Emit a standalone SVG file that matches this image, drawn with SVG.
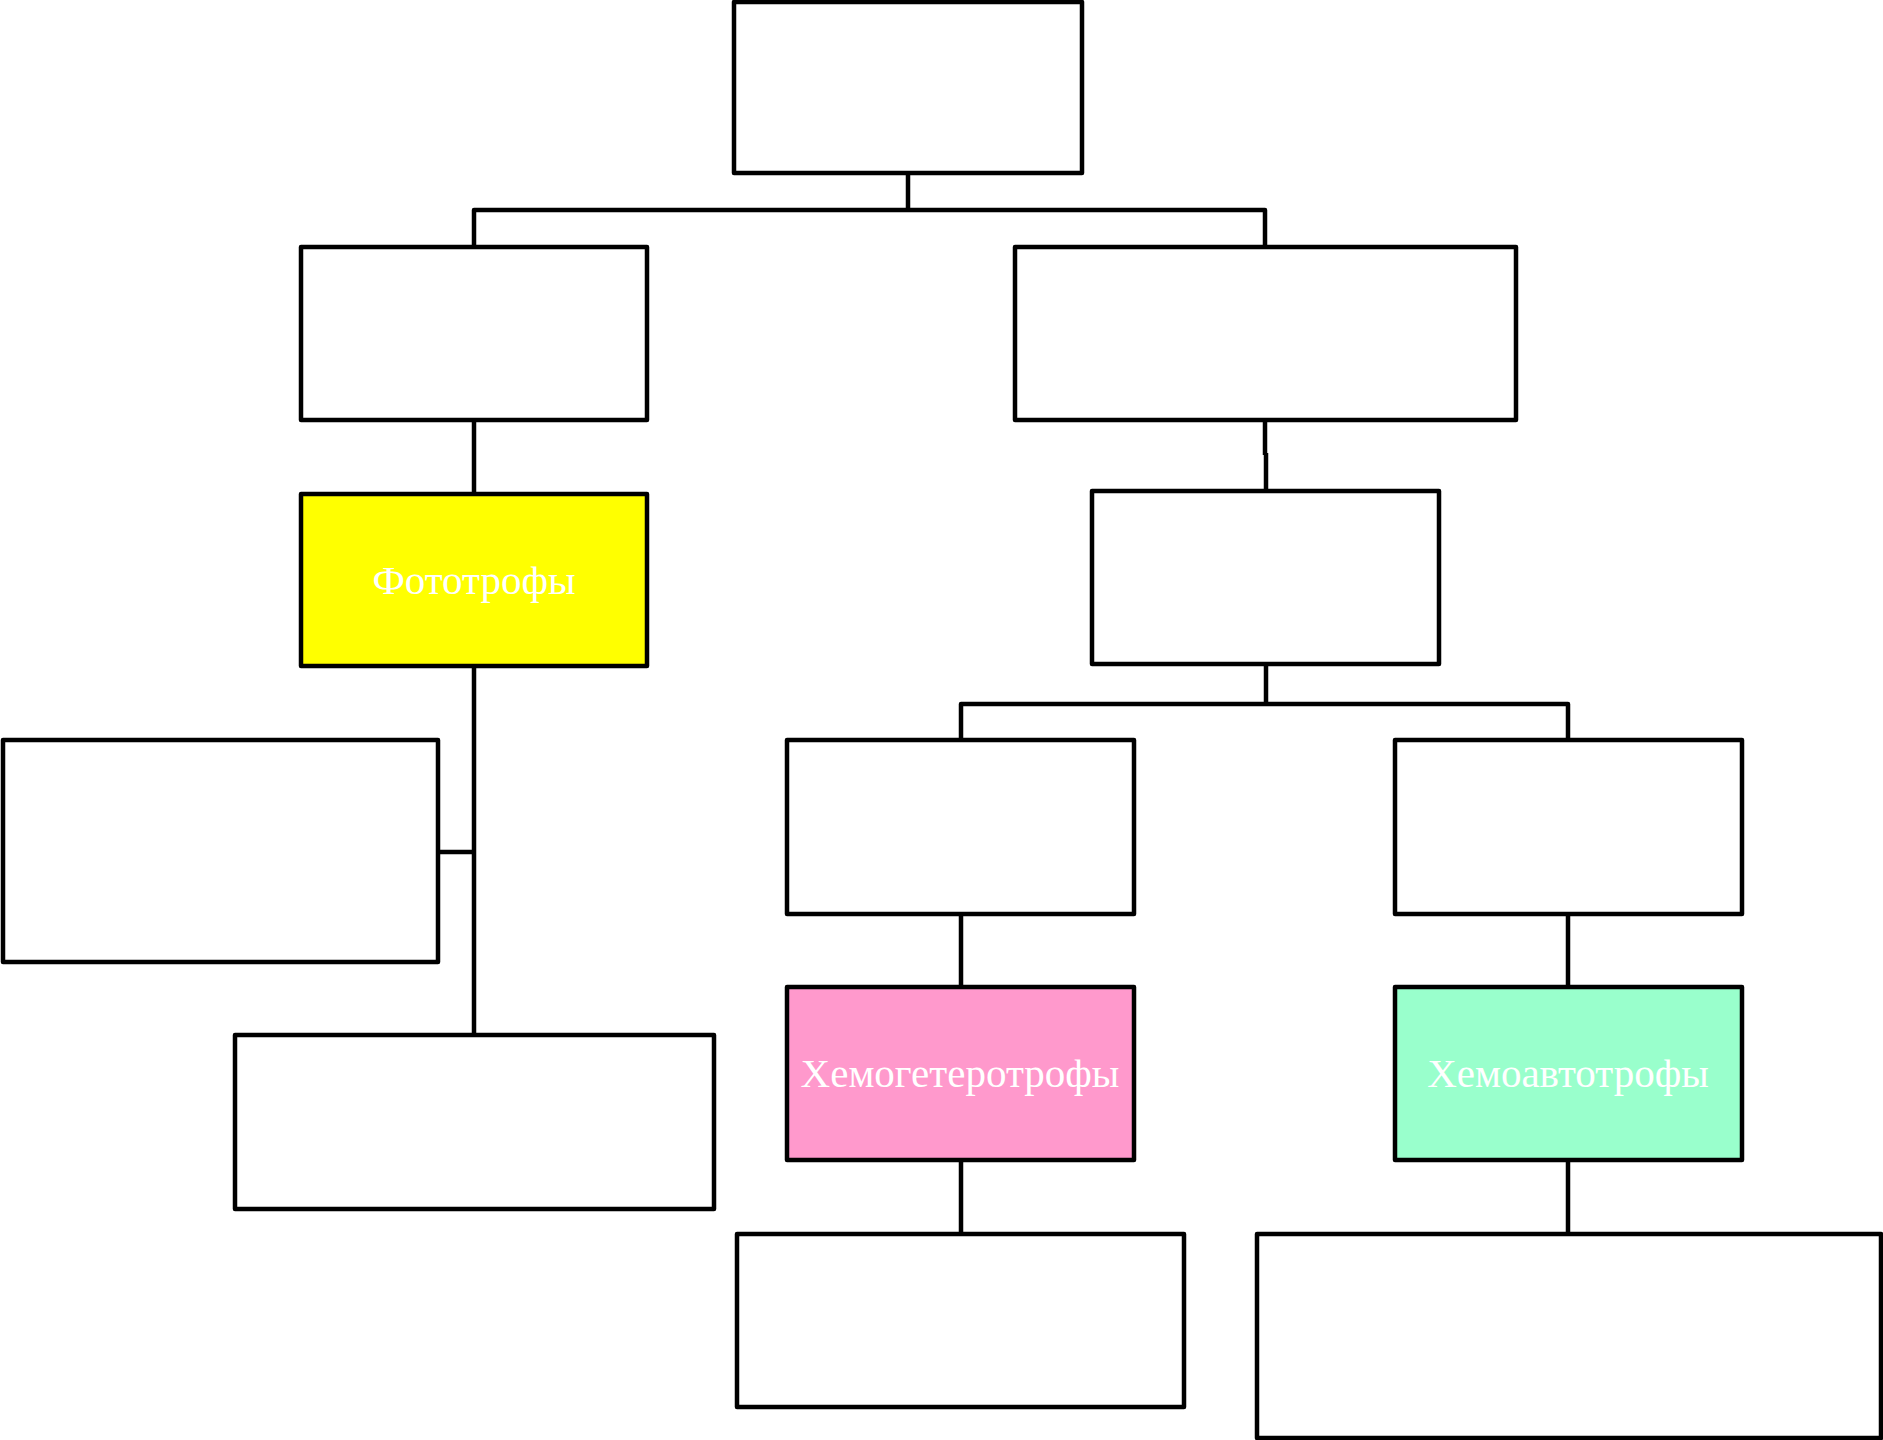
<svg xmlns="http://www.w3.org/2000/svg" width="1883" height="1440" viewBox="0 0 1883 1440">
<style>
.box{fill:#fff;stroke:#000;stroke-width:4.5;stroke-linejoin:round}
.ln{fill:none;stroke:#000;stroke-width:4.5;stroke-linejoin:round}
.lbl{font-family:"Liberation Serif","DejaVu Serif",serif;font-size:41px;fill:#fff;text-anchor:middle}
</style>
<rect width="1883" height="1440" fill="#fff"/>
<g id="connectors">
<path class="ln" d="M908 173V210M474 247V210H1265V247"/>
<path class="ln" d="M474 420V494"/>
<path class="ln" d="M474 666V1035M438 852H474"/>
<path class="ln" d="M1265 420V455M1266 453V491"/>
<path class="ln" d="M1266 664V704M961 740V704H1568V740"/>
<path class="ln" d="M961 914V987M1568 914V987"/>
<path class="ln" d="M961 1160V1234M1568 1160V1234"/>
</g>
<g id="root"><rect class="box" x="734" y="2" width="348" height="171"/></g>
<g id="left1"><rect class="box" x="301" y="247" width="346" height="173"/></g>
<g id="right1"><rect class="box" x="1015" y="247" width="501" height="173"/></g>
<g id="phototrophs"><rect class="box" x="301" y="494" width="346" height="172" style="fill:#ffff00"/><text class="lbl" x="474" y="594">Фототрофы</text></g>
<g id="left-a"><rect class="box" x="3" y="740" width="435" height="222"/></g>
<g id="left-b"><rect class="box" x="235" y="1035" width="479" height="174"/></g>
<g id="right2"><rect class="box" x="1092" y="491" width="347" height="173"/></g>
<g id="chem1"><rect class="box" x="787" y="740" width="347" height="174"/></g>
<g id="chem2"><rect class="box" x="1395" y="740" width="347" height="174"/></g>
<g id="chemoheterotrophs"><rect class="box" x="787" y="987" width="347" height="173" style="fill:#ff99cc"/><text class="lbl" x="960" y="1087">Хемогетеротрофы</text></g>
<g id="chemoautotrophs"><rect class="box" x="1395" y="987" width="347" height="173" style="fill:#99ffcc"/><text class="lbl" x="1568" y="1087">Хемоавтотрофы</text></g>
<g id="bottom1"><rect class="box" x="737" y="1234" width="447" height="173"/></g>
<g id="bottom2"><rect class="box" x="1257" y="1234" width="624" height="204"/></g>
</svg>
